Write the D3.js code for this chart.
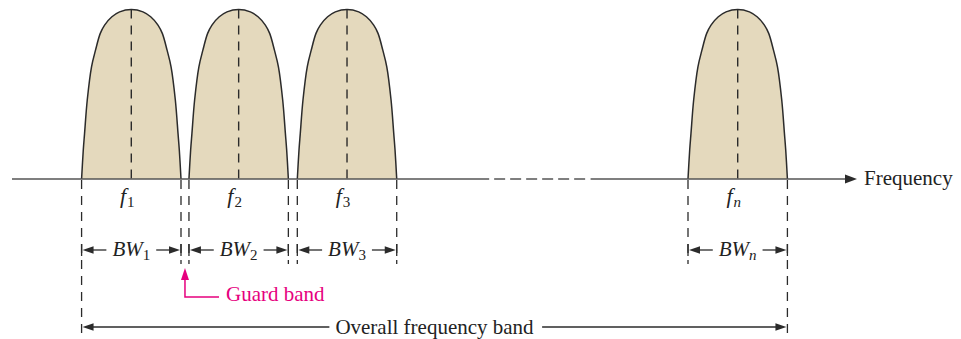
<!DOCTYPE html>
<html>
<head>
<meta charset="utf-8">
<script src="https://cdn.jsdelivr.net/npm/d3@7"></script>
<style>
  body { margin: 0; background: #fff; }
  svg { display: block; }
  svg text { fill: #222; }
</style>
</head>
<body>
<script>
var width = 961, height = 339;

// channels (frequency units, arbitrary)
var channels = ["1", "2", "3", "n"];
var centers = [12, 22.8, 33.7, 73];
var bandwidths = [10, 10, 10, 10];
var gapStart = 48, gapEnd = 58.2;     // broken part of the axis
var axisMax = 85;

// half profile of one channel lobe (u = offset / half bw, v = relative height)
var profileU = [1, 0.966, 0.94, 0.886, 0.8, 0.72, 0.624, 0.537, 0.39, 0.235, 0];
var profileV = [0, 0.171, 0.269, 0.466, 0.662, 0.76, 0.859, 0.908, 0.957, 0.986, 1];

var ink = "#2b2b2b", axisInk = "#555", fill = "#e4d9bd", magenta = "#e6007e";
var serif = "'Liberation Serif', 'Times New Roman', serif";

var svg = d3.select("body").append("svg")
    .attr("width", width)
    .attr("height", height)
    .attr("font-family", serif);

var x = d3.scaleLinear().domain([0, axisMax]).range([12, 857]);
var y = d3.scaleLinear().domain([0, 1]).range([179, 9.5]);
var baseY = y(0);

function arrowHead(g, tipX, tipY, dir, len, half) {
    g.append("path")
        .attr("d", "M" + tipX + "," + tipY +
            "L" + (tipX - dir * len) + "," + (tipY - half) +
            "L" + (tipX - dir * len) + "," + (tipY + half) + "Z")
        .attr("fill", ink);
}

// lobe shape: mirrored profile
var shape = [];
for (var i = 0; i < profileU.length; i++) shape.push([-profileU[i], profileV[i]]);
for (var j = profileU.length - 2; j >= 0; j--) shape.push([profileU[j], profileV[j]]);

var data = channels.map(function(c, i) {
    return {name: c, fc: centers[i], bw: bandwidths[i]};
});

var lobeLine = function(d) {
    return d3.line()
        .x(p => x(d.fc + p[0] * d.bw / 2))
        .y(p => y(p[1]))
        .curve(d3.curveCatmullRom.alpha(0.5))(shape);
};

var lobes = svg.selectAll(".lobe")
    .data(data)
    .enter()
    .append("g")
    .attr("class", "lobe");

lobes.append("path")
    .attr("d", d => lobeLine(d) + "Z")
    .attr("fill", fill)
    .attr("stroke", "none");

lobes.append("path")
    .attr("d", lobeLine)
    .attr("fill", "none")
    .attr("stroke", ink)
    .attr("stroke-width", 1.5);

// center dashed line
lobes.append("line")
    .attr("x1", d => x(d.fc)).attr("x2", d => x(d.fc))
    .attr("y1", y(1)).attr("y2", baseY)
    .attr("stroke", ink)
    .attr("stroke-width", 1.4)
    .attr("stroke-dasharray", "9,7");

// axis
var axis = svg.append("g").attr("stroke", axisInk).attr("stroke-width", 1.6);
axis.append("line").attr("x1", x(0)).attr("x2", x(gapStart)).attr("y1", baseY).attr("y2", baseY);
axis.append("line").attr("x1", x(gapStart + 0.5)).attr("x2", x(gapEnd - 0.5)).attr("y1", baseY).attr("y2", baseY)
    .attr("stroke-dasharray", "11,5");
axis.append("line").attr("x1", x(gapEnd)).attr("x2", x(axisMax) - 10).attr("y1", baseY).attr("y2", baseY);
arrowHead(svg, x(axisMax), baseY, 1, 12, 4.5);

svg.append("text")
    .attr("x", x(axisMax) + 7)
    .attr("y", 185)
    .attr("font-size", 21)
    .text("Frequency");

// dashed edge lines below the axis
var first = data[0], last = data[data.length - 1];
var edges = [];
data.forEach(function(d) {
    edges.push({x: d.fc - d.bw / 2, long: d === first});
    edges.push({x: d.fc + d.bw / 2, long: d === last});
});

svg.selectAll(".edge")
    .data(edges)
    .enter()
    .append("line")
    .attr("class", "edge")
    .attr("x1", d => x(d.x)).attr("x2", d => x(d.x))
    .attr("y1", baseY + 1).attr("y2", d => d.long ? 333 : 264)
    .attr("stroke", ink)
    .attr("stroke-width", 1.3)
    .attr("stroke-dasharray", "9,7");

// f labels
var fLab = svg.selectAll(".flab")
    .data(data)
    .enter()
    .append("text")
    .attr("class", "flab")
    .attr("x", d => x(d.fc) - 4)
    .attr("y", 203)
    .attr("text-anchor", "middle")
    .attr("font-size", 22);
fLab.append("tspan").attr("font-style", "italic").text("f");
fLab.append("tspan")
    .attr("font-style", d => d.name === "n" ? "italic" : "normal")
    .attr("font-size", 15)
    .attr("dx", 1)
    .attr("dy", 4)
    .text(d => d.name);

// BW labels with arrows
var arrowY = 250;
data.forEach(function(d) {
    var g = svg.append("g");
    var t = g.append("text")
        .attr("x", x(d.fc))
        .attr("y", 256)
        .attr("text-anchor", "middle")
        .attr("font-size", 21);
    t.append("tspan").attr("font-style", "italic").text("BW");
    t.append("tspan")
        .attr("font-style", d.name === "n" ? "italic" : "normal")
        .attr("font-size", 15)
        .attr("dy", 4)
        .text(d.name);
    var bb = t.node().getBBox();
    var l = x(d.fc - d.bw / 2), r = x(d.fc + d.bw / 2);
    g.append("line").attr("x1", l + 8).attr("x2", bb.x - 6).attr("y1", arrowY).attr("y2", arrowY)
        .attr("stroke", ink).attr("stroke-width", 1.3);
    g.append("line").attr("x1", bb.x + bb.width + 6).attr("x2", r - 8).attr("y1", arrowY).attr("y2", arrowY)
        .attr("stroke", ink).attr("stroke-width", 1.3);
    arrowHead(g, l + 1, arrowY, -1, 11, 3.8);
    arrowHead(g, r - 1, arrowY, 1, 11, 3.8);
    [l, r].forEach(function(px) {
        g.append("line").attr("x1", px).attr("x2", px).attr("y1", arrowY - 6).attr("y2", arrowY + 6)
            .attr("stroke", ink).attr("stroke-width", 1.3);
    });
});

// guard band callout
var gx = x((centers[0] + bandwidths[0] / 2 + centers[1] - bandwidths[1] / 2) / 2);
var guard = svg.append("g");
guard.append("path")
    .attr("d", "M" + gx + ",278 L" + gx + ",297 L219,297")
    .attr("fill", "none")
    .attr("stroke", magenta)
    .attr("stroke-width", 1.5);
guard.append("path")
    .attr("d", "M" + gx + ",268 L" + (gx - 4) + ",280 L" + (gx + 4) + ",280 Z")
    .attr("fill", magenta);
guard.append("text")
    .attr("x", 226)
    .attr("y", 301)
    .attr("font-size", 21)
    .style("fill", magenta)
    .text("Guard band");

// overall frequency band
var bandY = 327;
var bl = x(first.fc - first.bw / 2), br = x(last.fc + last.bw / 2);
var ot = svg.append("text")
    .attr("x", (bl + br) / 2)
    .attr("y", 334)
    .attr("text-anchor", "middle")
    .attr("font-size", 21)
    .text("Overall frequency band");
var ob = ot.node().getBBox();
svg.append("line").attr("x1", bl + 8).attr("x2", ob.x - 6).attr("y1", bandY).attr("y2", bandY)
    .attr("stroke", ink).attr("stroke-width", 1.3);
svg.append("line").attr("x1", ob.x + ob.width + 8).attr("x2", br - 8).attr("y1", bandY).attr("y2", bandY)
    .attr("stroke", ink).attr("stroke-width", 1.3);
arrowHead(svg, bl + 1, bandY, -1, 11, 3.8);
arrowHead(svg, br - 1, bandY, 1, 11, 3.8);
</script>
</body>
</html>
